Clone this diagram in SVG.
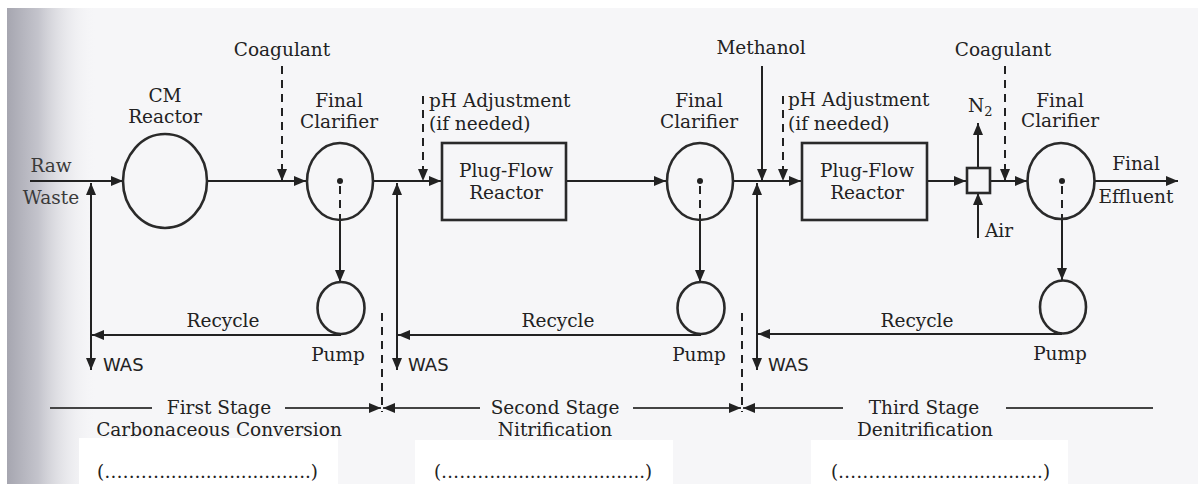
<svg xmlns="http://www.w3.org/2000/svg" width="1198" height="486" viewBox="0 0 1198 486">
<defs>
<linearGradient id="edge" x1="0" y1="0" x2="1" y2="0">
<stop offset="0" stop-color="#a6a6b0"/>
<stop offset="0.35" stop-color="#c4c4cc"/>
<stop offset="1" stop-color="#f6f6f8" stop-opacity="0"/>
</linearGradient>
<marker id="ah" viewBox="0 0 12 10" refX="12" refY="5" markerWidth="12" markerHeight="10" markerUnits="userSpaceOnUse" orient="auto-start-reverse">
<path d="M0,0 L12,5 L0,10 z" fill="#222"/>
</marker>
<style>
.t{font-family:"DejaVu Serif","Liberation Serif",serif;font-size:18.5px;fill:#222;}
.m{text-anchor:middle;}
.s{font-family:"DejaVu Sans","Liberation Sans",sans-serif;font-size:18px;fill:#222;}
.ln{stroke:#222;stroke-width:2;fill:none;}
.dl{stroke:#222;stroke-width:2;fill:none;stroke-dasharray:8,6;}
.sh{stroke:#2a2a2a;stroke-width:2.6;fill:none;}
.st{stroke:#444;stroke-width:2;fill:none;}
</style>
</defs>
<rect x="0" y="0" width="1198" height="486" fill="#ffffff"/>
<rect x="7" y="8" width="1191" height="476" fill="#f6f6f8"/>
<rect x="7" y="8" width="90" height="476" fill="url(#edge)"/>
<rect x="79" y="438" width="259" height="48" fill="#ffffff"/>
<rect x="415" y="440" width="258" height="46" fill="#ffffff"/>
<rect x="811" y="440" width="257" height="46" fill="#ffffff"/>

<g id="connectors">
<path class="ln" d="M30,181 H123" marker-end="url(#ah)"/>
<path class="ln" d="M207,181 H306" marker-end="url(#ah)"/>
<path class="ln" d="M373,181 H441" marker-end="url(#ah)"/>
<path class="ln" d="M566,181 H666" marker-end="url(#ah)"/>
<path class="ln" d="M733,181 H801" marker-end="url(#ah)"/>
<path class="ln" d="M927,181 H966" marker-end="url(#ah)"/>
<path class="ln" d="M990,181 H1027" marker-end="url(#ah)"/>
<path class="ln" d="M1095,181 H1178" marker-end="url(#ah)"/>
<path class="dl" d="M282,66 V181" marker-end="url(#ah)"/>
<path class="dl" d="M423,96 V181" marker-end="url(#ah)"/>
<path class="ln" d="M762,66 V181" marker-end="url(#ah)"/>
<path class="dl" d="M783,96 V181" marker-end="url(#ah)"/>
<path class="dl" d="M1005,66 V181" marker-end="url(#ah)"/>
<path class="ln" d="M978,168 V123" marker-end="url(#ah)"/>
<path class="ln" d="M978,238 V193" marker-end="url(#ah)"/>
<path class="dl" d="M340,186 V220"/>
<path class="ln" d="M340,220 V282" marker-end="url(#ah)"/>
<path class="dl" d="M700,186 V220"/>
<path class="ln" d="M700,220 V282" marker-end="url(#ah)"/>
<path class="dl" d="M1062,186 V219"/>
<path class="ln" d="M1062,219 V280" marker-end="url(#ah)"/>
<path class="ln" d="M341,335 H92" marker-end="url(#ah)"/>
<path class="ln" d="M701,335 H398" marker-end="url(#ah)"/>
<path class="ln" d="M1062,334 H758" marker-end="url(#ah)"/>
<path class="ln" d="M91,183 V370" marker-start="url(#ah)" marker-end="url(#ah)"/>
<path class="ln" d="M397,183 V370" marker-start="url(#ah)" marker-end="url(#ah)"/>
<path class="ln" d="M757,183 V370" marker-start="url(#ah)" marker-end="url(#ah)"/>
<path class="dl" d="M382,313 V412"/>
<path class="dl" d="M742,313 V412"/>
<path class="st" d="M50,408 H152"/>
<path class="st" d="M285,408 H381" marker-end="url(#ah)"/>
<path class="st" d="M383,408 H480" marker-start="url(#ah)"/>
<path class="st" d="M633,408 H741" marker-end="url(#ah)"/>
<path class="st" d="M743,408 H843" marker-start="url(#ah)"/>
<path class="st" d="M1006,408 H1153"/>
</g>

<g id="raw-waste">
<text class="t m" x="51" y="172" style="fill:#3a3a3a">Raw</text>
<text class="t m" x="51" y="204" style="fill:#3a3a3a">Waste</text>
</g>
<g id="cm-reactor">
<ellipse class="sh" cx="165" cy="181" rx="42" ry="47"/>
<text class="t m" x="165" y="102">CM</text>
<text class="t m" x="165" y="123">Reactor</text>
</g>
<g id="coagulant-1"><text class="t m" x="282" y="56">Coagulant</text></g>
<g id="clarifier-1">
<ellipse class="sh" cx="340" cy="181.5" rx="33" ry="38.5"/>
<circle cx="340" cy="181" r="3" fill="#222"/>
<text class="t m" x="339" y="107">Final</text>
<text class="t m" x="339" y="128">Clarifier</text>
</g>
<g id="pump-1">
<ellipse class="sh" cx="341" cy="308" rx="23.5" ry="26"/>
<text class="t m" x="338" y="361">Pump</text>
</g>
<g id="recycle-1"><text class="t m" x="223" y="327">Recycle</text></g>
<g id="was-1"><text class="s" x="103" y="371">WAS</text></g>

<g id="ph-1">
<text class="t" x="429" y="107">pH Adjustment</text>
<text class="t" x="429" y="130">(if needed)</text>
</g>
<g id="plugflow-1">
<rect class="sh" x="442" y="143" width="124" height="77"/>
<text class="t m" x="506" y="177">Plug-Flow</text>
<text class="t m" x="506" y="199">Reactor</text>
</g>
<g id="clarifier-2">
<ellipse class="sh" cx="700" cy="181.5" rx="33" ry="38.5"/>
<circle cx="700" cy="181" r="3" fill="#222"/>
<text class="t m" x="699" y="107">Final</text>
<text class="t m" x="699" y="128">Clarifier</text>
</g>
<g id="pump-2">
<ellipse class="sh" cx="701" cy="308" rx="23.5" ry="26"/>
<text class="t m" x="699" y="361">Pump</text>
</g>
<g id="recycle-2"><text class="t m" x="558" y="327">Recycle</text></g>
<g id="was-2"><text class="s" x="408" y="371">WAS</text></g>

<g id="methanol"><text class="t m" x="761" y="54">Methanol</text></g>
<g id="ph-2">
<text class="t" x="788" y="106">pH Adjustment</text>
<text class="t" x="788" y="130">(if needed)</text>
</g>
<g id="plugflow-2">
<rect class="sh" x="802" y="143" width="125" height="77"/>
<text class="t m" x="867" y="177">Plug-Flow</text>
<text class="t m" x="867" y="199">Reactor</text>
</g>
<g id="stripper">
<rect class="sh" x="967" y="168" width="23" height="25"/>
<text class="t" x="968" y="112">N<tspan font-size="13" dy="4">2</tspan></text>
<text class="t" x="985" y="237">Air</text>
</g>
<g id="coagulant-2"><text class="t m" x="1003" y="56">Coagulant</text></g>
<g id="clarifier-3">
<ellipse class="sh" cx="1061" cy="181" rx="33.5" ry="38"/>
<circle cx="1062" cy="181" r="3" fill="#222"/>
<text class="t m" x="1060" y="107">Final</text>
<text class="t m" x="1060" y="127">Clarifier</text>
</g>
<g id="final-effluent">
<text class="t m" x="1136" y="170">Final</text>
<text class="t m" x="1136" y="203">Effluent</text>
</g>
<g id="pump-3">
<ellipse class="sh" cx="1063" cy="307" rx="23" ry="26.5"/>
<text class="t m" x="1060" y="360">Pump</text>
</g>
<g id="recycle-3"><text class="t m" x="917" y="327">Recycle</text></g>
<g id="was-3"><text class="s" x="768" y="371">WAS</text></g>

<g id="stage-1">
<text class="t m" x="219" y="414">First Stage</text>
<text class="t m" x="219" y="436">Carbonaceous Conversion</text>
<text class="t" x="97" y="478" textLength="221" lengthAdjust="spacingAndGlyphs">(………..........................)</text>
</g>
<g id="stage-2">
<text class="t m" x="555" y="414">Second Stage</text>
<text class="t m" x="555" y="436">Nitrification</text>
<text class="t" x="434" y="478" textLength="218" lengthAdjust="spacingAndGlyphs">(………..........................)</text>
</g>
<g id="stage-3">
<text class="t m" x="924" y="414">Third Stage</text>
<text class="t m" x="925" y="436">Denitrification</text>
<text class="t" x="831" y="478" textLength="219" lengthAdjust="spacingAndGlyphs">(………..........................)</text>
</g>
</svg>
